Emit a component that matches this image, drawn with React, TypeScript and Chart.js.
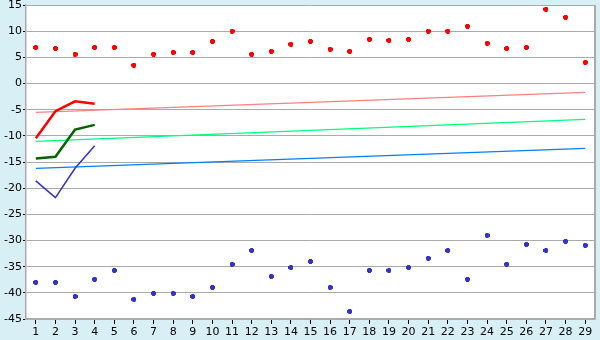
import React, { useEffect, useRef } from "react";
import { Chart, registerables } from "chart.js";

Chart.register(...registerables);

const categories = Array.from({ length: 29 }, (_, i) => String(i + 1));

const redPoints = [6.9, 6.7, 5.6, 6.9, 6.9, 3.5, 5.6, 5.95, 5.95, 8.05, 10.0, 5.6, 6.15, 7.5, 8.05, 6.55, 6.15, 8.45, 8.25, 8.45, 10.0, 10.0, 10.95, 7.7, 6.7, 6.9, 14.2, 12.65, 4.05];
const bluePoints = [-38.0, -38.0, -40.7, -37.4, -35.7, -41.25, -40.1, -40.1, -40.7, -38.95, -34.55, -31.9, -36.85, -35.15, -34.0, -38.95, -43.55, -35.7, -35.7, -35.15, -33.4, -31.9, -37.4, -29.0, -34.55, -30.75, -31.9, -30.15, -30.9];

const redLine = [-10.45, -5.3, -3.4, -3.85];
const greenLine = [-14.35, -14.0, -8.8, -7.9];
const blueLine = [-18.6, -21.8, -16.2, -11.9];

const redTrend = [-5.5, ...Array(27).fill(null), -1.7];
const greenTrend = [-11.05, ...Array(27).fill(null), -6.85];
const blueTrend = [-16.2, ...Array(27).fill(null), -12.4];

const yMin = -45;
const yMax = 15;
const yStep = 5;

function makeMarker(color: string) {
  const c = document.createElement("canvas");
  c.width = 5;
  c.height = 5;
  const ctx = c.getContext("2d")!;
  ctx.fillStyle = color;
  ctx.fillRect(1, 0, 3, 5);
  ctx.fillRect(0, 1, 5, 3);
  return c;
}

export default function App() {
  const ref = useRef<HTMLCanvasElement | null>(null);
  useEffect(() => {
    document.body.style.margin = "0";
    const canvas = ref.current!;
    const bgPlugin = {
      id: "bg",
      beforeDraw(chart: any) {
        const { ctx, chartArea } = chart;
        ctx.save();
        ctx.fillStyle = "#d9eff6";
        ctx.fillRect(0, 0, chart.width, chart.height);
        ctx.fillStyle = "#ffffff";
        ctx.fillRect(chartArea.left, chartArea.top, chartArea.right - chartArea.left, chartArea.bottom - chartArea.top);
        ctx.restore();
      },
      afterDraw(chart: any) {
        const { ctx, chartArea } = chart;
        ctx.save();
        ctx.strokeStyle = "#aaaaaa";
        ctx.lineWidth = 2;
        ctx.beginPath();
        ctx.moveTo(chartArea.right, chartArea.top);
        ctx.lineTo(chartArea.right, chartArea.bottom);
        ctx.stroke();
        ctx.restore();
      },
    };
    const redM = makeMarker("#ff0000");
    const blueM = makeMarker("#3333cc");
    const font = { family: "'DejaVu Sans', Verdana, sans-serif", size: 11 };
    const chart = new Chart(canvas, {
      type: "line",
      data: {
        labels: categories,
        datasets: [
          { data: redLine, borderColor: "#ff0000", borderWidth: 2.5, pointRadius: 0, tension: 0, order: 1 },
          { data: greenLine, borderColor: "#006400", borderWidth: 2.5, pointRadius: 0, tension: 0, order: 1 },
          { data: blueLine, borderColor: "#3333cc", borderWidth: 1.5, pointRadius: 0, tension: 0, order: 1 },
          { data: redPoints, showLine: false, pointStyle: redM as any, pointRadius: 3, borderColor: "#ff0000", backgroundColor: "#ff0000", order: 0 },
          { data: bluePoints, showLine: false, pointStyle: blueM as any, pointRadius: 3, borderColor: "#3333cc", backgroundColor: "#3333cc", order: 0 },
          { data: redTrend, borderColor: "#ff8080", borderWidth: 1.3, pointRadius: 0, spanGaps: true, order: 2 },
          { data: greenTrend, borderColor: "#00ff80", borderWidth: 1.3, pointRadius: 0, spanGaps: true, order: 2 },
          { data: blueTrend, borderColor: "#0080ff", borderWidth: 1.3, pointRadius: 0, spanGaps: true, order: 2 },
        ],
      },
      options: {
        responsive: false,
        animation: false,
        layout: { padding: { top: 5, right: 5, left: 0, bottom: 0 } },
        plugins: { legend: { display: false }, tooltip: { enabled: false } },
        scales: {
          x: {
            type: "category",
            offset: true,
            grid: { drawOnChartArea: false, drawTicks: true, tickLength: 5, tickColor: "#000000", offset: false },
            border: { color: "#aaaaaa", width: 1.5 },
            ticks: { color: "#000000", font, padding: 2, maxRotation: 0, autoSkip: false },
            afterFit(scale: any) {
              scale.height = 21;
              scale.paddingLeft = 0;
              scale.paddingRight = 0;
            },
          },
          y: {
            min: yMin,
            max: yMax,
            ticks: { stepSize: yStep, color: "#000000", font, padding: 1 },
            grid: { color: "#aaaaaa", lineWidth: 1, tickLength: 3, tickColor: "#000000" },
            border: { color: "#aaaaaa", width: 1.5 },
            afterFit(scale: any) {
              scale.width = 26;
              scale.paddingTop = 0;
              scale.paddingBottom = 0;
            },
          },
        },
      },
      plugins: [bgPlugin],
    });
    return () => chart.destroy();
  }, []);
  return <canvas ref={ref} width={600} height={340} style={{ display: "block" }} />;
}
